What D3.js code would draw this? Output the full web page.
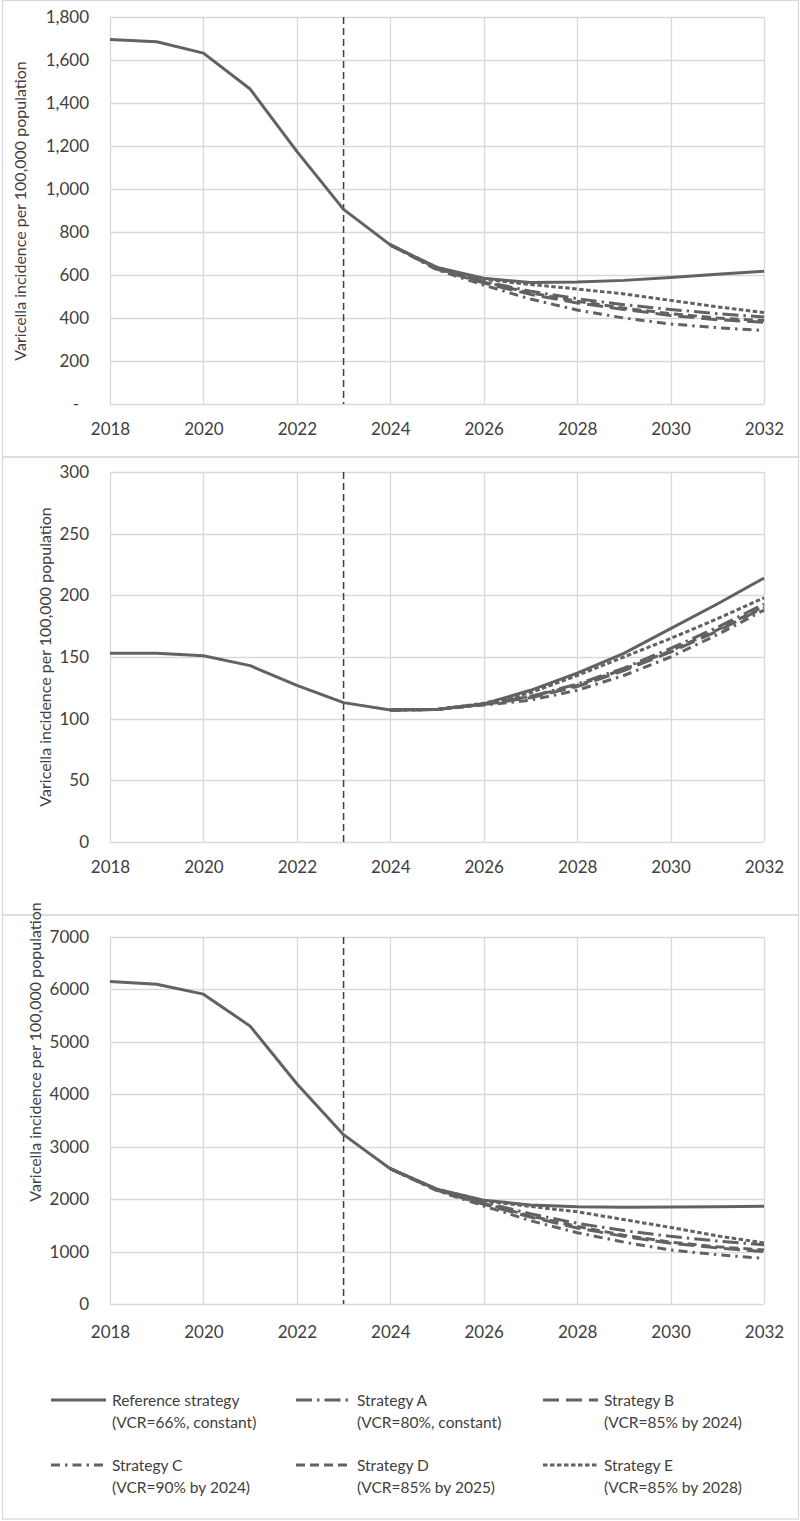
<!DOCTYPE html>
<html>
<head>
<meta charset="utf-8">
<script src="https://cdn.jsdelivr.net/npm/d3@7"></script>
<style>
  html, body { margin: 0; padding: 0; background: #fff; }
  svg { display: block; }
  text { font-family: Lato, "Open Sans", sans-serif; fill: #404040; }
</style>
</head>
<body>
<svg id="chart" width="800" height="1521"></svg>
<script>
// ---------- DATA ----------
const years = [2018, 2019, 2020, 2021, 2022, 2023, 2024, 2025, 2026, 2027, 2028, 2029, 2030, 2031, 2032];
const interventionYear = 2023;
const xTicks = [2018, 2020, 2022, 2024, 2026, 2028, 2030, 2032];

const seriesNames = ["Reference strategy", "Strategy A", "Strategy B", "Strategy C", "Strategy D", "Strategy E"];
const seriesSubtitles = ["(VCR=66%, constant)", "(VCR=80%, constant)", "(VCR=85% by 2024)",
                         "(VCR=90% by 2024)", "(VCR=85% by 2025)", "(VCR=85% by 2028)"];

// Panel 1
const p1Ref = [1695, 1685, 1632, 1465, 1175, 905, 740, 635, 585, 565, 567, 575, 588, 603, 618];
const p1A   = [null, null, null, null, null, null, 740, 630, 570, 525, 490, 462, 440, 420, 405];
const p1B   = [null, null, null, null, null, null, 740, 627, 563, 510, 470, 440, 412, 392, 380];
const p1C   = [null, null, null, null, null, null, 740, 624, 553, 488, 437, 400, 372, 355, 342];
const p1D   = [null, null, null, null, null, null, 740, 632, 567, 517, 478, 446, 420, 400, 388];
const p1E   = [null, null, null, null, null, null, 740, 635, 580, 556, 535, 512, 482, 452, 425];
const p1Ticks = [0, 200, 400, 600, 800, 1000, 1200, 1400, 1600, 1800];

// Panel 2
const p2Ref = [153, 153, 151, 143, 127, 113, 107, 107.5, 112, 123, 137, 153, 173, 193, 214];
const p2A   = [null, null, null, null, null, null, 107, 107.5, 112, 118, 128, 141, 157, 174, 193];
const p2B   = [null, null, null, null, null, null, 107, 107.5, 111.5, 117, 126, 139, 154, 171, 190];
const p2C   = [null, null, null, null, null, null, 107, 107.5, 111, 115, 123, 135, 150, 168, 188];
const p2D   = [null, null, null, null, null, null, 107, 107.5, 112, 118, 127, 140, 155, 172, 191];
const p2E   = [null, null, null, null, null, null, 107, 107.5, 112.5, 121, 135, 150, 165, 181, 198];
const p2Ticks = [0, 50, 100, 150, 200, 250, 300];

// Panel 3
const p3Ref = [6150, 6100, 5910, 5300, 4200, 3230, 2580, 2190, 1980, 1890, 1855, 1845, 1848, 1855, 1865];
const p3A   = [null, null, null, null, null, null, 2580, 2180, 1940, 1720, 1540, 1400, 1290, 1200, 1130];
const p3B   = [null, null, null, null, null, null, 2580, 2170, 1900, 1660, 1450, 1290, 1160, 1070, 1000];
const p3C   = [null, null, null, null, null, null, 2580, 2160, 1870, 1590, 1360, 1180, 1030, 940, 870];
const p3D   = [null, null, null, null, null, null, 2580, 2180, 1920, 1680, 1480, 1310, 1180, 1090, 1030];
const p3E   = [null, null, null, null, null, null, 2580, 2190, 1970, 1860, 1760, 1610, 1460, 1300, 1165];
const p3Ticks = [0, 1000, 2000, 3000, 4000, 5000, 6000, 7000];

const yTitle = "Varicella incidence per 100,000 population";

// ---------- STYLE ----------
const lineColor = "#626262";
const gridColor = "#d9d9d9";
const dashes = [null, "16,5,2.5,5", "16,7", "9,5,2.5,5", "9,5", "4.5,2.5"];

const svg = d3.select("#chart");

const panels = [
  { series: [p1Ref, p1A, p1B, p1C, p1D, p1E], ticks: p1Ticks, yMax: 1800,
    box: [2, 0.5, 798, 457], top: 17, bottom: 404, labelY: 435, titleX: 20, titleY: 211,
    fmt: v => v === 0 ? "-" : d3.format(",")(v) },
  { series: [p2Ref, p2A, p2B, p2C, p2D, p2E], ticks: p2Ticks, yMax: 300,
    box: [2, 457, 798, 915], top: 472, bottom: 842, labelY: 873, titleX: 45, titleY: 657,
    fmt: d3.format("d") },
  { series: [p3Ref, p3A, p3B, p3C, p3D, p3E], ticks: p3Ticks, yMax: 7000,
    box: [2, 915, 798, 1519], top: 937, bottom: 1304, labelY: 1338, titleX: 35, titleY: 1052,
    fmt: d3.format("d") }
];

const x = d3.scaleLinear().domain([years[0], years[years.length - 1]]).range([110, 764]);

panels.forEach((p, pi) => {
  const g = svg.append("g");
  g.append("rect")
    .attr("x", p.box[0] + 0.5).attr("y", p.box[1])
    .attr("width", p.box[2] - p.box[0]).attr("height", p.box[3] - p.box[1])
    .attr("fill", "none").attr("stroke", gridColor).attr("stroke-width", 1.3);

  const y = d3.scaleLinear().domain([0, p.yMax]).range([p.bottom, p.top]);

  g.selectAll(".hg").data(p.ticks).join("line")
    .attr("x1", x.range()[0]).attr("x2", x.range()[1])
    .attr("y1", d => Math.round(y(d)) + 0.5).attr("y2", d => Math.round(y(d)) + 0.5)
    .attr("stroke", gridColor).attr("stroke-width", 1.3);
  g.selectAll(".vg").data(xTicks).join("line")
    .attr("x1", d => Math.round(x(d)) + 0.5).attr("x2", d => Math.round(x(d)) + 0.5)
    .attr("y1", p.top).attr("y2", p.bottom)
    .attr("stroke", gridColor).attr("stroke-width", 1.3);

  const yAxis = d3.axisLeft(y).tickValues(p.ticks).tickSize(0).tickPadding(0).tickFormat(p.fmt);
  const ya = g.append("g").attr("transform", "translate(89,0)").call(yAxis);
  ya.select(".domain").remove();
  ya.selectAll("text").attr("font-size", 17).attr("fill", "#404040")
    .style("font-family", "Lato, 'Open Sans', sans-serif");
  if (pi === 0) {
    ya.selectAll(".tick text").filter(d => d === 0).attr("dx", -10);
  }

  const xAxis = d3.axisBottom(x).tickValues(xTicks).tickSize(0).tickPadding(0).tickFormat(d3.format("d"));
  const xa = g.append("g").attr("transform", `translate(0,${p.labelY - 13})`).call(xAxis);
  xa.select(".domain").remove();
  xa.selectAll("text").attr("font-size", 17).attr("fill", "#404040").attr("dy", 0).attr("y", 13)
    .style("font-family", "Lato, 'Open Sans', sans-serif");

  g.append("text")
    .attr("transform", `translate(${p.titleX + 6},${p.titleY}) rotate(-90)`)
    .attr("text-anchor", "middle").attr("font-size", 16).attr("fill", "#404040")
    .text(yTitle);

  g.append("line")
    .attr("x1", x(interventionYear)).attr("x2", x(interventionYear))
    .attr("y1", p.top).attr("y2", p.bottom)
    .attr("stroke", "#404040").attr("stroke-width", 1.5).attr("stroke-dasharray", "7,4");

  const line = d3.line().defined(d => d[1] !== null).x(d => x(d[0])).y(d => y(d[1]));
  const order = [5, 4, 3, 2, 1, 0];
  order.forEach(si => {
    const data = years.map((yr, i) => [yr, p.series[si][i]]);
    g.append("path").datum(data)
      .attr("d", line)
      .attr("fill", "none").attr("stroke", lineColor).attr("stroke-width", 3)
      .attr("stroke-linejoin", "round")
      .attr("stroke-dasharray", dashes[si]);
  });
});

// ---------- LEGEND ----------
const legendCols = [51, 296, 543];
const legendRows = [1400, 1465];
const lg = svg.append("g");
seriesNames.forEach((name, i) => {
  const cx = legendCols[i % 3];
  const cy = legendRows[Math.floor(i / 3)];
  lg.append("line")
    .attr("x1", cx).attr("x2", cx + 55).attr("y1", cy).attr("y2", cy)
    .attr("stroke", lineColor).attr("stroke-width", 3)
    .attr("stroke-dasharray", dashes[i]);
  lg.append("text").attr("x", cx + 61).attr("y", cy + 5.5)
    .attr("font-size", 15.5).attr("fill", "#404040").text(name);
  lg.append("text").attr("x", cx + 61).attr("y", cy + 27.5)
    .attr("font-size", 15.5).attr("fill", "#404040").text(seriesSubtitles[i]);
});
</script>
</body>
</html>
